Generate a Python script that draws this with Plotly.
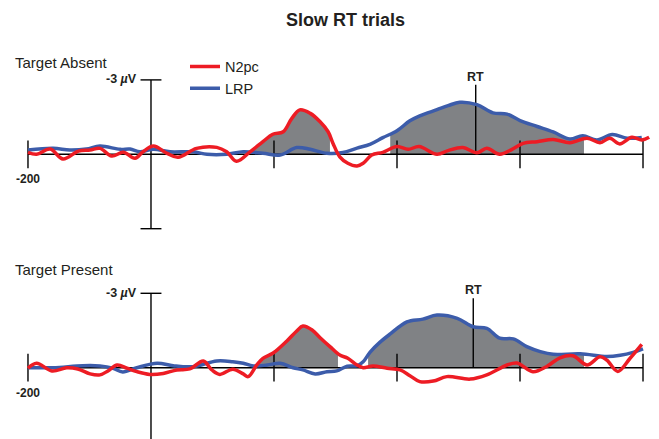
import numpy as np
import plotly.graph_objects as go

# ---------------- data (time in ms, amplitude in microvolts, negative plotted up) ----------------
title_text = "Slow RT trials"
panel_names = ["Target Absent", "Target Present"]
series_names = ["N2pc", "LRP"]
x_ticks = [-200, 200, 400, 600, 800]
x_tick_label = "-200"
y_tick_label = "-3 <i>µ</i>V"
rt_label = "RT"

# Target Absent
t_n2pc_absent = [-200, -186, -164, -143, -118, -99, -83, -64, -45, -26, -13, 4, 26, 44, 74, 107, 123, 139, 161, 182,
                 198, 215, 229, 242, 259, 275, 288, 296, 307, 320, 335, 345, 359, 377, 400, 418, 436, 465, 483, 507,
                 530, 546, 567, 587, 605, 628, 654, 681, 709, 730, 746, 762, 782, 798, 810]
v_n2pc_absent = [-0.08, 0, -0.21, 0.19, -0.13, -0.17, -0.24, 0.07, -0.08, 0.16, -0.1, -0.33, -0.04, 0.12, -0.24, -0.28,
                 -0.1, 0.28, -0.1, -0.51, -0.81, -0.91, -1.45, -1.79, -1.65, -1.31, -0.91, -0.44, 0.1, 0.36, 0.47, 0.36,
                 0.03, -0.08, -0.31, -0.2, -0.31, 0, -0.15, -0.27, -0.06, -0.24, 0, -0.2, -0.44, -0.51, -0.6, -0.47,
                 -0.65, -0.47, -0.65, -0.42, -0.69, -0.58, -0.69]
t_lrp_absent = [-200, -159, -132, -105, -83, -50, -34, -18, 4, 31, 69, 91, 123, 150, 182, 210, 237, 259, 286, 312,
                335, 356, 377, 400, 421, 437, 465, 483, 502, 530, 556, 579, 600, 628, 654, 681, 702, 725, 750, 774, 798]
v_lrp_absent = [-0.17, -0.24, -0.17, -0.21, -0.33, -0.2, -0.21, -0.1, -0.2, -0.1, -0.1, 0, 0, -0.1, -0.04, 0.03, -0.27,
                -0.2, -0.04, -0.07, -0.25, -0.4, -0.67, -0.95, -1.35, -1.55, -1.8, -1.96, -2.1, -2.0, -1.67, -1.62,
                -1.36, -1.12, -0.9, -0.62, -0.75, -0.58, -0.8, -0.65, -0.68]

# Target Present
t_n2pc_present = [-200, -186, -161, -137, -119, -99, -83, -70, -55, -39, -23, -2, 20, 42, 63, 85, 99, 112, 133, 150,
                  158, 172, 182, 198, 221, 237, 247, 262, 275, 291, 307, 320, 335, 345, 361, 384, 405, 421, 437, 459,
                  481, 519, 546, 579, 595, 621, 644, 665, 686, 709, 730, 741, 759, 779, 798]
v_n2pc_present = [0.02, -0.18, 0.13, 0, 0.05, 0.25, 0.29, 0.13, -0.11, 0.02, 0.16, 0.27, 0.23, 0.09, 0.05, -0.27, 0.09,
                  0.27, 0.06, 0.25, 0.36, -0.11, -0.38, -0.58, -1.08, -1.48, -1.68, -1.52, -1.21, -0.85, -0.51, -0.38,
                  -0.11, 0, -0.07, 0.02, 0.09, 0.32, 0.56, 0.54, 0.36, 0.46, 0.29, -0.11, -0.19, 0.16, -0.06, -0.4,
                  -0.48, -0.11, -0.44, -0.31, 0.15, -0.38, -0.94]
t_lrp_present = [-200, -159, -111, -83, -62, -46, -23, 10, 36, 68, 107, 133, 150, 166, 189, 210, 231, 247, 267, 286,
                 302, 319, 335, 345, 356, 372, 389, 416, 442, 465, 498, 524, 546, 567, 589, 611, 633, 654, 698, 741,
                 763, 784, 800]
v_lrp_present = [0, 0, -0.08, -0.07, 0.02, 0.17, 0, -0.18, -0.08, -0.04, -0.27, -0.24, -0.18, -0.07, -0.11, -0.18, 0,
                 0.09, 0.25, 0.16, 0.13, -0.06, -0.08, -0.24, -0.62, -1.02, -1.36, -1.85, -1.96, -2.12, -1.99, -1.65,
                 -1.59, -1.19, -1.16, -0.85, -0.65, -0.54, -0.56, -0.45, -0.5, -0.62, -0.76]

# shaded windows (ms): N2pc window, LRP window
n2pc_window_absent = [166, 291]
lrp_window_absent = [389, 704]
n2pc_window_present = [174, 304]
lrp_window_present = [353, 704]
rt_absent = 528
rt_present = 524

# ---------------- style ----------------
RED = "rgb(237,28,36)"
BLUE = "rgb(60,92,170)"
GRAY = "rgb(128,130,133)"
INK = "#231f20"
FONT = "Arial, Liberation Sans, sans-serif"
W, H = 659, 439

panels = [
    dict(name=panel_names[0], yaxis="y", tr=t_n2pc_absent, vr=v_n2pc_absent, tb=t_lrp_absent, vb=v_lrp_absent,
         wr=n2pc_window_absent, wb=lrp_window_absent, rt=rt_absent, label_y=63),
    dict(name=panel_names[1], yaxis="y2", tr=t_n2pc_present, vr=v_n2pc_present, tb=t_lrp_present, vb=v_lrp_present,
         wr=n2pc_window_present, wb=lrp_window_present, rt=rt_present, label_y=269),
]


def window(t, v, a, b):
    t = np.asarray(t, float)
    v = np.asarray(v, float)
    inside = (t > a) & (t < b)
    xs = [a] + list(t[inside]) + [b]
    ys = [float(np.interp(a, t, v))] + list(v[inside]) + [float(np.interp(b, t, v))]
    return xs, ys


fig = go.Figure()
annotations = []

for i, p in enumerate(panels):
    ya = p["yaxis"]
    # gray windows
    for (t, v, w) in [(p["tr"], p["vr"], p["wr"]), (p["tb"], p["vb"], p["wb"])]:
        xs, ys = window(t, v, w[0], w[1])
        fig.add_trace(go.Scatter(x=xs, y=ys, yaxis=ya, mode="lines", line=dict(width=0, shape="spline"),
                                 fill="tozeroy", fillcolor=GRAY, showlegend=False, hoverinfo="skip"))
    # axes drawn as data lines
    ax_x, ax_y = [x_ticks[0], x_ticks[-1], None], [0, 0, None]
    for tk in x_ticks:
        ax_x += [tk, tk, None]
        ax_y += [-0.56, 0.56, None]
    ax_x += [0, 0, None, -17, 17, None, -17, 17, None, p["rt"], p["rt"]]
    ax_y += [-3, 3, None, -3, -3, None, 3, 3, None, 0, -2.8]
    fig.add_trace(go.Scatter(x=ax_x, y=ax_y, yaxis=ya, mode="lines", line=dict(color="black", width=1.4),
                             showlegend=False, hoverinfo="skip"))
    # waveforms
    fig.add_trace(go.Scatter(x=p["tb"], y=p["vb"], yaxis=ya, mode="lines", name=series_names[1],
                             line=dict(color=BLUE, width=3.5, shape="spline"), showlegend=(i == 0),
                             legendrank=2))
    fig.add_trace(go.Scatter(x=p["tr"], y=p["vr"], yaxis=ya, mode="lines", name=series_names[0],
                             line=dict(color=RED, width=3.5, shape="spline"), showlegend=(i == 0),
                             legendrank=1))
    # texts
    annotations.append(dict(text=p["name"], xref="paper", yref="paper", x=13 / W, y=1 - p["label_y"] / H,
                            xanchor="left", yanchor="middle", showarrow=False,
                            font=dict(family=FONT, size=15, color=INK)))
    annotations.append(dict(text="<b>" + y_tick_label + "</b>", xref="x", yref=ya, x=-19, y=-3.03,
                            xanchor="right", yanchor="middle", showarrow=False,
                            font=dict(family=FONT, size=12.5, color=INK)))
    annotations.append(dict(text="<b>" + x_tick_label + "</b>", xref="x", yref=ya, x=-200, y=1.0,
                            xanchor="center", yanchor="middle", showarrow=False,
                            font=dict(family=FONT, size=12, color=INK)))
    annotations.append(dict(text="<b>" + rt_label + "</b>", xref="x", yref=ya, x=p["rt"], y=-3.13,
                            xanchor="center", yanchor="middle", showarrow=False,
                            font=dict(family=FONT, size=12.5, color=INK)))

annotations.append(dict(text="<b>" + title_text + "</b>", xref="paper", yref="paper", x=345.5 / W, y=1 - 20 / H,
                        xanchor="center", yanchor="middle", showarrow=False,
                        font=dict(family=FONT, size=18, color=INK)))

fig.update_layout(
    width=W, height=H, autosize=False,
    margin=dict(l=0, r=0, t=0, b=0, pad=0),
    paper_bgcolor="white", plot_bgcolor="white",
    xaxis=dict(range=[-245.5, 826.0], visible=False, fixedrange=True),
    yaxis=dict(range=[(H - 154.3) / 24.8, -154.3 / 24.8], visible=False, domain=[0, 1], fixedrange=True),
    yaxis2=dict(range=[(H - 367.7) / 24.8, -367.7 / 24.8], visible=False, domain=[0, 1], overlaying="y",
                fixedrange=True),
    showlegend=True,
    legend=dict(x=185 / W, y=1 - 50.5 / H, xanchor="left", yanchor="top", bgcolor="rgba(0,0,0,0)",
                font=dict(family=FONT, size=14.5, color=INK), traceorder="normal", tracegroupgap=0,
                itemwidth=30),
    annotations=annotations,
)

fig.write_html("out.html", config={"displayModeBar": False},
               post_script="document.body.style.margin='0';document.body.style.overflow='hidden';")
